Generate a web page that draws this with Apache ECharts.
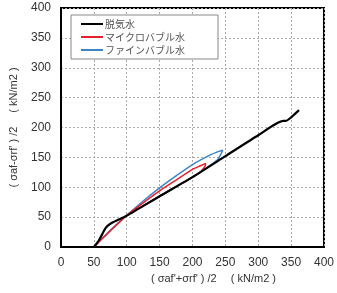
<!DOCTYPE html>
<html>
<head>
<meta charset="utf-8">
<script src="https://cdn.jsdelivr.net/npm/echarts@6/dist/echarts.min.js"></script>
<style>
  html, body { margin: 0; padding: 0; background: #fff; }
  #chart { width: 337px; height: 293px; }
</style>
</head>
<body>
<div id="chart"></div>
<script>
// axis ticks
const xTicks = [0, 50, 100, 150, 200, 250, 300, 350, 400]
const yTicks = [0, 50, 100, 150, 200, 250, 300, 350, 400]

const seriesNames = ['脱気水', 'マイクロバブル水', 'ファインバブル水']
const seriesColors = ['#000000', '#e8202a', '#3d85c6']

// [ (σaf'+σrf')/2 , (σaf-σrf')/2 ]
const degassed = [
  [50, 0], [57, 10], [63, 22], [68, 32], [75, 39], [88, 46], [101, 53],
  [150, 85], [200, 117], [250, 152], [300, 187], [338, 211], [342, 211],
  [350, 217], [362, 229],
]
const microBubble = [
  [50, 0], [75, 27], [100, 53], [125, 74], [150, 94], [175, 112],
  [200, 130], [212, 136], [220, 140], [219, 135], [214, 128], [213, 126],
  [200, 117], [150, 85], [100, 53],
]
const fineBubble = [
  [50, 0], [75, 28], [100, 53], [125, 77], [150, 99], [175, 119],
  [200, 138], [225, 153], [240, 160], [246, 162], [243, 155], [238, 146],
  [200, 117], [150, 85], [100, 53],
]

const chart = echarts.init(document.getElementById('chart'))

const axisFont = { color: '#333', fontSize: 12, fontFamily: 'Liberation Sans' }
const dotted = { lineStyle: { color: '#aaa', type: [2, 2], width: 1 } }

chart.setOption({
  animation: false,
  grid: {
    left: 57, right: 12, top: 8, bottom: 46,
    show: true, borderColor: '#000', borderWidth: 2,
  },
  legend: {
    orient: 'vertical',
    left: 71,
    top: 15,
    padding: [4, 33, 4, 10],
    itemGap: 3,
    itemWidth: 22,
    itemHeight: 2,
    icon: 'rect',
    backgroundColor: '#fff',
    borderColor: '#888',
    borderWidth: 1,
    borderRadius: 0,
    textStyle: { color: '#555', fontSize: 10, fontFamily: 'Noto Sans CJK JP', padding: [0, 0, 0, -3] },
    data: seriesNames,
  },
  xAxis: {
    type: 'value',
    min: xTicks[0],
    max: xTicks[xTicks.length - 1],
    interval: 50,
    name: "( σaf'+σrf' ) /2 　( kN/m2 )",
    nameLocation: 'middle',
    nameGap: 20,
    nameTextStyle: { color: '#333', fontSize: 11, fontFamily: 'Liberation Sans', padding: [0, 0, 0, 42] },
    axisLine: { show: true, lineStyle: { color: '#000', width: 2 } },
    axisTick: { show: false },
    axisLabel: { ...axisFont, margin: 10 },
    splitLine: { show: true, ...dotted },
  },
  yAxis: {
    type: 'value',
    min: yTicks[0],
    max: yTicks[yTicks.length - 1],
    interval: 50,
    name: "( σaf-σrf' ) /2 　( kN/m2 )",
    nameLocation: 'middle',
    nameGap: 42,
    nameTextStyle: { color: '#333', fontSize: 11, fontFamily: 'Liberation Sans' },
    axisLine: { show: true, lineStyle: { color: '#000', width: 2 } },
    axisTick: { show: false },
    axisLabel: { ...axisFont, margin: 10 },
    splitLine: { show: true, ...dotted },
  },
  series: [
    { name: seriesNames[2], data: fineBubble, z: 2 },
    { name: seriesNames[1], data: microBubble, z: 3 },
    { name: seriesNames[0], data: degassed, z: 4 },
  ].map((s) => ({
    type: 'line',
    showSymbol: false,
    symbol: 'none',
    smooth: 0.2,
    ...s,
    color: seriesColors[seriesNames.indexOf(s.name)],
    lineStyle: { width: s.name === seriesNames[0] ? 2.2 : 1.5 },
  })),
})
</script>
</body>
</html>
